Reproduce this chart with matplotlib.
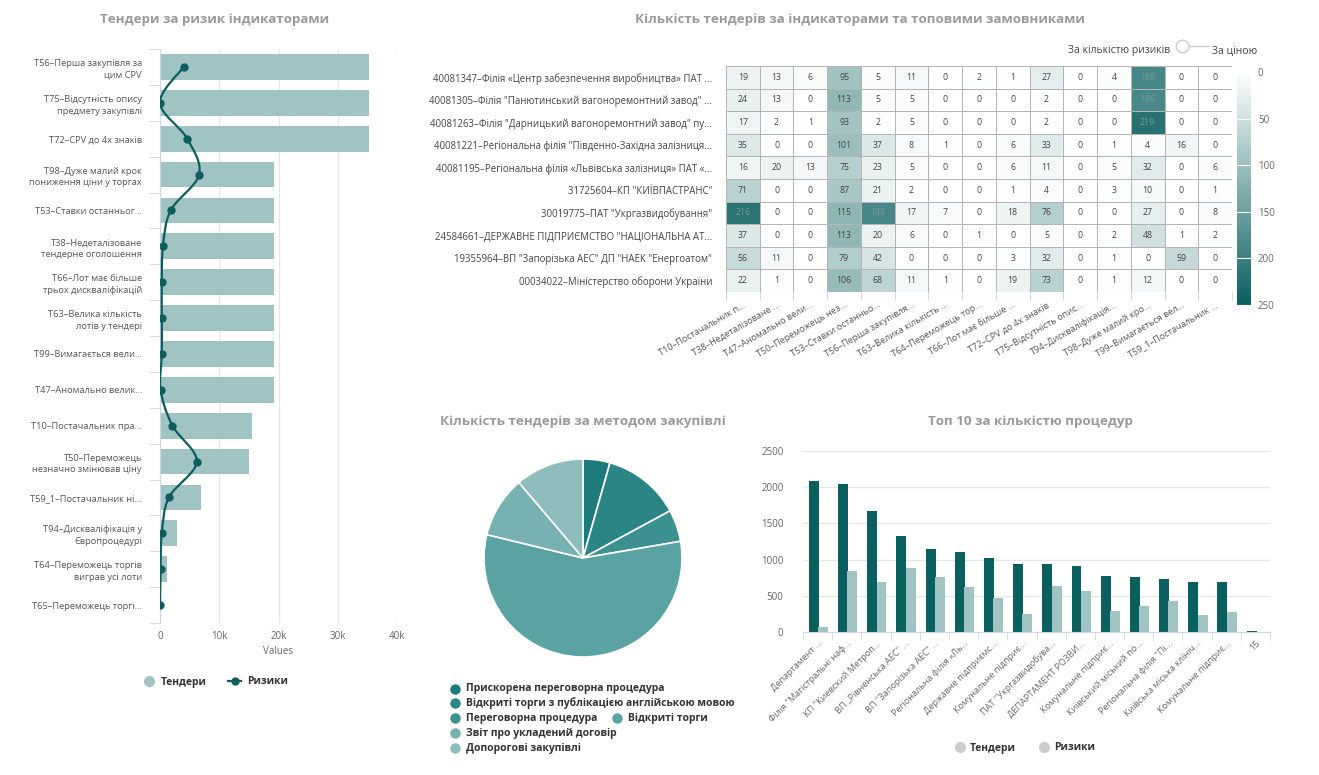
import numpy as np
import matplotlib
matplotlib.use("Agg")
import matplotlib.pyplot as plt
from matplotlib.path import Path
from matplotlib.patches import PathPatch
from matplotlib.lines import Line2D
from matplotlib.colors import LinearSegmentedColormap

plt.rcParams['font.family'] = ['Open Sans', 'DejaVu Sans']

# ---- data: risk indicators (left) ----
risk_labels = [
    "T56–Перша закупівля за\nцим CPV",
    "T75–Відсутність опису\nпредмету закупівлі",
    "T72–CPV до 4х знаків",
    "T98–Дуже малий крок\nпониження ціни у торгах",
    "T53–Ставки останньог...",
    "T38–Недеталізоване\nтендерне оголошення",
    "T66–Лот має більше\nтрьох дискваліфікацій",
    "T63–Велика кількість\nлотів у тендері",
    "T99–Вимагається вели...",
    "T47–Аномально велик...",
    "T10–Постачальник пра...",
    "T50–Переможець\nнезначно змінював ціну",
    "T59_1–Постачальник ні...",
    "T94–Дискваліфікація у\nЄвропроцедурі",
    "T64–Переможець торгів\nвиграв усі лоти",
    "T65–Переможець торгі...",
]
risk_tenders = [35300, 35300, 35300, 19200, 19200, 19200, 19200, 19200,
                19200, 19200, 15500, 15100, 6900, 2800, 1100, 100]
risk_risks = [4000, 0, 4600, 6600, 1800, 500, 300, 300,
              300, 100, 2100, 6200, 1500, 300, 100, 0]

# ---- data: heatmap ----
hm_rows = [
    '40081347–Філія «Центр забезпечення виробництва» ПАТ ...',
    '40081305–Філія "Панютинський вагоноремонтний завод" ...',
    '40081263–Філія "Дарницький вагоноремонтний завод" пу...',
    '40081221–Регіональна філія "Південно-Західна залізниця...',
    '40081195–Регіональна філія «Львівська залізниця» ПАТ «...',
    '31725604–КП "КИЇВПАСТРАНС"',
    '30019775–ПАТ "Укргазвидобування"',
    '24584661–ДЕРЖАВНЕ ПІДПРИЄМСТВО "НАЦІОНАЛЬНА АТ...',
    '19355964–ВП "Запорізька АЕС" ДП "НАЕК "Енергоатом"',
    '00034022–Міністерство оборони України',
]
hm_cols = [
    "T10–Постачальник п...", "T38–Недеталізоване ...", "T47–Аномально вели...",
    "T50–Переможець нез...", "T53–Ставки останньо...", "T56–Перша закупівля...",
    "T63–Велика кількість ...", "T64–Переможець тор...", "T66–Лот має більше ...",
    "T72–CPV до 4х знаків", "T75–Відсутність опис...", "T94–Дискваліфікація...",
    "T98–Дуже малий кро...", "T99–Вимагається вел...", "T59_1–Постачальник ...",
]
hm_values = [
    [19, 13, 6, 95, 5, 11, 0, 2, 1, 27, 0, 4, 188, 0, 0],
    [24, 13, 0, 113, 5, 5, 0, 0, 0, 2, 0, 0, 186, 0, 0],
    [17, 2, 1, 93, 2, 5, 0, 0, 0, 2, 0, 0, 219, 0, 0],
    [35, 0, 0, 101, 37, 8, 1, 0, 6, 33, 0, 1, 4, 16, 0],
    [16, 20, 13, 75, 23, 5, 0, 0, 6, 11, 0, 5, 32, 0, 6],
    [71, 0, 0, 87, 21, 2, 0, 0, 1, 4, 0, 3, 10, 0, 1],
    [216, 0, 0, 115, 188, 17, 7, 0, 18, 76, 0, 0, 27, 0, 8],
    [37, 0, 0, 113, 20, 6, 0, 1, 0, 5, 0, 2, 48, 1, 2],
    [56, 11, 0, 79, 42, 0, 0, 0, 3, 32, 0, 1, 0, 59, 0],
    [22, 1, 0, 106, 68, 11, 1, 0, 19, 73, 0, 1, 12, 0, 0],
]

# ---- data: pie ----
pie_labels = ["Прискорена переговорна процедура",
              "Відкриті торги з публікацією англійською мовою",
              "Переговорна процедура", "Відкриті торги",
              "Звіт про укладений договір", "Допорогові закупівлі"]
pie_values = [4.4, 12.7, 5.2, 56.5, 10.0, 11.2]
pie_colors = ['#1e7b7b', '#2b8585', '#3d9090', '#5ba3a3', '#78b1b1', '#8ebdbd']

# ---- data: top 10 ----
top_labels = ['Департамент ...', 'Філія "Магістральні наф...', 'КП "Киевский Метроп...',
              'ВП „Рівненська АЕС" ...', 'ВП "Запорізька АЕС" ...', 'Регіональна філія «Ль...',
              'Державне підприємс...', 'Комунальне підприє...', 'ПАТ "Укргазвидобува...',
              'ДЕПАРТАМЕНТ РОЗВИ...', 'Комунальне підприє...', 'Київський міський по...',
              'Регіональна філія "Пі...', 'Київська міська клініч...', 'Комунальне підприє...', '15']
top_tenders = [2085, 2040, 1675, 1330, 1145, 1100, 1020, 940, 940, 905, 780, 765, 735, 695, 690, 18]
top_risks = [75, 845, 695, 885, 755, 615, 475, 250, 640, 570, 295, 365, 430, 230, 275, 5]

TITLE_C = '#9a9a9a'
TICK_C = '#666666'
GRID_C = '#e6e6e6'
W, H = 1319, 775


def box(x0, y0, x1, y1):
    return [x0 / W, 1 - y1 / H, (x1 - x0) / W, (y1 - y0) / H]


fig = plt.figure(figsize=(13.19, 7.75), dpi=100)

# ================= left: bars + spline =================
ax1 = fig.add_axes(box(160, 49, 397, 623))
ypos = np.arange(len(risk_labels))
ax1.barh(ypos, risk_tenders, height=0.72, color='#a0c4c4', zorder=2)
# smooth curve through the risk points (bezier path built from the points)
pts = np.column_stack([risk_risks, ypos]).astype(float)
ext = np.vstack([pts[0], pts, pts[-1]])
verts = [tuple(pts[0])]
codes = [Path.MOVETO]
for i in range(len(pts) - 1):
    p0, p1, p2, p3 = ext[i], ext[i + 1], ext[i + 2], ext[i + 3]
    c1 = p1 + (p2 - p0) / 6
    c2 = p2 - (p3 - p1) / 6
    verts += [tuple(c1), tuple(c2), tuple(p2)]
    codes += [Path.CURVE4] * 3
ax1.add_patch(PathPatch(Path(verts, codes), fill=False, edgecolor='#0e5d5e', lw=1.6, zorder=3))
ax1.plot(risk_risks, ypos, 'o', color='#0e5d5e', ms=5, zorder=4)
ax1.set_xlim(0, 40000)
ax1.set_ylim(len(risk_labels) - 0.5, -0.5)
ax1.set_yticks(ypos)
ax1.set_yticklabels(risk_labels, fontsize=6.7, color='#555555', linespacing=1.4)
ax1.set_yticks(np.arange(len(risk_labels) + 1) - 0.5, minor=True)
ax1.tick_params(axis='y', which='major', length=0, pad=13)
ax1.tick_params(axis='y', which='minor', length=8, color='#ccd6eb', direction='out')
ax1.set_xticks([0, 10000, 20000, 30000, 40000])
ax1.set_xticklabels(['0', '10k', '20k', '30k', '40k'], fontsize=7, color=TICK_C)
ax1.tick_params(axis='x', length=0, pad=6)
ax1.set_xlabel('Values', fontsize=7, color=TICK_C, labelpad=3)
ax1.grid(axis='x', color=GRID_C, lw=0.9, zorder=0)
for s in ['top', 'right', 'bottom']:
    ax1.spines[s].set_visible(False)
ax1.spines['left'].set_color('#ccd6eb')
fig.text(215 / W, 1 - 20 / H, 'Тендери за ризик індикаторами', ha='center', va='center',
         fontsize=9.6, fontweight='bold', color=TITLE_C)
fig.legend(handles=[Line2D([], [], marker='o', color='none', markerfacecolor='#a0c4c4',
                           markeredgecolor='none', markersize=8, label='Тендери'),
                    Line2D([], [], marker='o', color='#0e5d5e', markersize=5, lw=1.6, label='Ризики')],
           loc='center', bbox_to_anchor=(215 / W, 1 - 682 / H), ncol=2, frameon=False,
           prop={'size': 7.5, 'weight': 'bold'}, labelcolor='#333333',
           handlelength=1.3, columnspacing=2.0, handletextpad=0.5)

# ================= heatmap =================
cmap = LinearSegmentedColormap.from_list('tealw', ['#ffffff', '#0a5f5f'])
ax2 = fig.add_axes(box(726, 66, 1232, 292))
vals = np.array(hm_values)
mesh = ax2.pcolormesh(vals, cmap=cmap, vmin=0, vmax=250, edgecolors='#b5b5b5', linewidth=0.6)
ax2.set_ylim(len(hm_rows), 0)
ax2.set_xlim(0, len(hm_cols))
for r in range(vals.shape[0]):
    for c in range(vals.shape[1]):
        v = vals[r, c]
        ax2.text(c + 0.5, r + 0.5, str(v), ha='center', va='center', fontsize=6.3,
                 color='#7d9a9a' if v > 170 else '#444444')
ax2.set_yticks(np.arange(len(hm_rows)) + 0.5)
ax2.set_yticklabels(hm_rows, fontsize=6.9, color='#444444')
ax2.set_xticks(np.arange(len(hm_cols)) + 0.5)
ax2.set_xticklabels(hm_cols, fontsize=6.6, color='#555555', rotation=30, ha='right',
                    rotation_mode='anchor')
ax2.tick_params(axis='y', length=0, pad=10)
ax2.tick_params(axis='x', which='major', length=0, pad=6)
ax2.set_xticks(np.arange(len(hm_cols) + 1), minor=True)
ax2.tick_params(axis='x', which='minor', length=6, color='#d0d0d0')
for s in ax2.spines.values():
    s.set_visible(False)
cax = fig.add_axes(box(1237, 72, 1251, 305))
cb = fig.colorbar(mesh, cax=cax)
cb.outline.set_visible(False)
cax.invert_yaxis()
cb.set_ticks([0, 50, 100, 150, 200, 250])
cax.tick_params(labelsize=7, labelcolor=TICK_C, length=14, color='#ffffff', width=0.8,
                direction='in', pad=5)
fig.text(860 / W, 1 - 20 / H, 'Кількість тендерів за індикаторами та топовими замовниками',
         ha='center', va='center', fontsize=9.6, fontweight='bold', color=TITLE_C)
# toggle
fig.text(1170 / W, 1 - 51 / H, 'За кількістю ризиків', ha='right', va='center',
         fontsize=7.5, color='#444444')
fig.text(1212 / W, 1 - 51 / H, 'За ціною', ha='left', va='center', fontsize=7.5, color='#444444')
fig.add_artist(Line2D([1185 / W, 1208 / W], [1 - 46 / H, 1 - 46 / H], color='#cccccc', lw=1))
fig.add_artist(Line2D([1182 / W], [1 - 46 / H], marker='o', markersize=9, color='none',
                      markerfacecolor='white', markeredgecolor='#cccccc'))

# ================= pie =================
ax3 = fig.add_axes(box(483, 458, 683, 658))
ax3.pie(pie_values, colors=pie_colors, startangle=90, counterclock=False, radius=1,
        wedgeprops={'edgecolor': 'white', 'linewidth': 1.2})
ax3.set_xlim(-1.01, 1.01)
ax3.set_ylim(-1.01, 1.01)
fig.text(583 / W, 1 - 421 / H, 'Кількість тендерів за методом закупівлі', ha='center',
         va='center', fontsize=9.6, fontweight='bold', color=TITLE_C)
leg_pos = [(455, 689), (455, 703), (455, 718), (617, 718), (455, 733), (455, 748)]
for lab, col, (lx, ly) in zip(pie_labels, pie_colors, leg_pos):
    fig.add_artist(Line2D([lx / W], [1 - ly / H], marker='o', markersize=7.5, color='none',
                          markerfacecolor=col, markeredgecolor='none'))
    fig.text((lx + 11) / W, 1 - ly / H, lab, ha='left', va='center', fontsize=7.5,
             fontweight='bold', color='#333333')

# ================= top 10 =================
ax4 = fig.add_axes(box(803, 451, 1270, 632))
xi = np.arange(len(top_labels))
bw = 0.34
ax4.bar(xi - 0.13, top_tenders, width=bw, color='#0a5f5f', zorder=2)
ax4.bar(xi + 0.19, top_risks, width=bw, color='#a0c4c4', zorder=2)
ax4.set_ylim(0, 2500)
ax4.set_xlim(-0.5, len(top_labels) - 0.5)
ax4.set_yticks([0, 500, 1000, 1500, 2000, 2500])
ax4.tick_params(axis='y', length=0, labelsize=7, labelcolor=TICK_C, pad=14)
ax4.grid(axis='y', color=GRID_C, lw=0.9, zorder=0)
ax4.set_xticks(xi)
ax4.set_xticklabels(top_labels, fontsize=6.6, color='#666666', rotation=45, ha='right',
                    rotation_mode='anchor')
ax4.tick_params(axis='x', which='major', length=0, pad=5)
ax4.set_xticks(np.arange(len(top_labels) + 1) - 0.5, minor=True)
ax4.tick_params(axis='x', which='minor', length=6, color='#ccd6eb')
for s in ['top', 'right', 'left']:
    ax4.spines[s].set_visible(False)
ax4.spines['bottom'].set_color('#ccd6eb')
fig.text(1030 / W, 1 - 421 / H, 'Топ 10 за кількістю процедур', ha='center', va='center',
         fontsize=9.6, fontweight='bold', color=TITLE_C)
fig.legend(handles=[Line2D([], [], marker='o', color='none', markerfacecolor='#cccccc',
                           markeredgecolor='none', markersize=8, label='Тендери'),
                    Line2D([], [], marker='o', color='none', markerfacecolor='#cccccc',
                           markeredgecolor='none', markersize=8, label='Ризики')],
           loc='center', bbox_to_anchor=(1025 / W, 1 - 748 / H), ncol=2, frameon=False,
           prop={'size': 7.5, 'weight': 'bold'}, labelcolor='#333333',
           handlelength=1.0, columnspacing=2.2, handletextpad=0.5)

fig.savefig('out.png', dpi=100, facecolor='white')
